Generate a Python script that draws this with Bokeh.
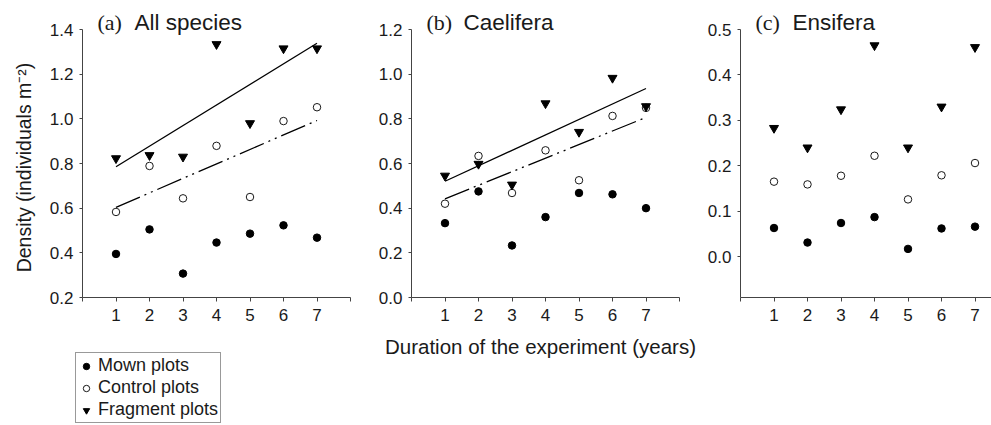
import math
import numpy as np
from bokeh.plotting import figure
from bokeh.layouts import row, column
from bokeh.models import (FixedTicker, Label, Legend, LegendItem, Range1d,
                          PrintfTickFormatter)
from bokeh.embed import file_html
from bokeh.resources import INLINE

# ---------------- data ----------------
years = [1, 2, 3, 4, 5, 6, 7]
x_ticks = [0, 1, 2, 3, 4, 5, 6, 7, 8]

all_mown = [0.395, 0.505, 0.307, 0.446, 0.486, 0.523, 0.468]
all_control = [0.583, 0.789, 0.644, 0.879, 0.650, 0.990, 1.052]
all_fragment = [0.823, 0.837, 0.830, 1.334, 0.980, 1.315, 1.315]

cae_mown = [0.333, 0.475, 0.233, 0.360, 0.468, 0.462, 0.400]
cae_control = [0.420, 0.634, 0.468, 0.659, 0.525, 0.813, 0.849]
cae_fragment = [0.545, 0.598, 0.505, 0.869, 0.741, 0.983, 0.856]

ens_mown = [0.063, 0.031, 0.074, 0.087, 0.017, 0.062, 0.066]
ens_control = [0.165, 0.159, 0.178, 0.222, 0.126, 0.179, 0.206]
ens_fragment = [0.283, 0.240, 0.324, 0.465, 0.240, 0.330, 0.461]

yticks_a = [0.2, 0.4, 0.6, 0.8, 1.0, 1.2, 1.4]
yticks_b = [0.0, 0.2, 0.4, 0.6, 0.8, 1.0, 1.2]
yticks_c = [0.0, 0.1, 0.2, 0.3, 0.4, 0.5]

legend_labels = ["Mown plots", "Control plots", "Fragment plots"]
x_label = "Duration of the experiment (years)"
y_label = "Density (individuals m\u207B\u00B2)"

SANS = "Liberation Sans"
SERIF = "Liberation Serif"
AX = "#444444"
TXT = "#1a1a1a"

TOP = 29      # space above the axis top, kept inside the frame for titles
AXIS_H = 268  # drawn height of the y axis
PANEL_H = 335
BOTTOM = PANEL_H - TOP - AXIS_H
STRIP_H = 425 - PANEL_H
YLAB_W = 40


def make_panel(width, border_left, border_right, x_end, y_lo, y_hi, yticks,
               mown, control, fragment, tag, name, trends):
    y_top = y_hi + TOP * (y_hi - y_lo) / AXIS_H
    p = figure(width=width, height=PANEL_H, output_backend="svg",
               toolbar_location=None, x_range=Range1d(0, x_end),
               y_range=Range1d(y_lo, y_top),
               min_border_left=border_left, min_border_right=border_right,
               min_border_top=0, min_border_bottom=BOTTOM)
    p.outline_line_color = None
    p.background_fill_color = "white"
    p.border_fill_color = "white"
    p.xgrid.visible = False
    p.ygrid.visible = False

    p.xaxis.ticker = FixedTicker(ticks=x_ticks)
    p.xaxis.major_label_overrides = {0: "", 8: ""}
    p.yaxis.ticker = FixedTicker(ticks=yticks)
    p.yaxis.formatter = PrintfTickFormatter(format="%.1f")
    p.yaxis.bounds = (y_lo, y_hi)
    for ax in (p.xaxis, p.yaxis):
        ax.axis_line_color = AX
        ax.axis_line_width = 1
        ax.major_tick_line_color = AX
        ax.minor_tick_line_color = None
        ax.major_tick_in = 0
        ax.major_label_text_font = SANS
        ax.major_label_text_font_size = "17px"
        ax.major_label_text_color = TXT
    p.xaxis.major_tick_out = 4
    p.xaxis.major_label_standoff = 7
    p.yaxis.major_tick_out = 3
    p.yaxis.major_label_standoff = 6

    if trends:
        xs = np.array([years[0], years[-1]], dtype=float)
        k, b = np.polyfit(years, fragment, 1)
        p.line(xs, k * xs + b, line_color="black", line_width=1.3)
        k, b = np.polyfit(years, control, 1)
        p.line(xs, k * xs + b, line_color="black", line_width=1.3,
               line_dash="26 5 2 5 2 5")

    p.scatter(years, mown, marker="circle", size=7.5,
              fill_color="black", line_color="black")
    p.scatter(years, control, marker="circle", size=7.5,
              fill_color="white", line_color="black", line_width=0.9)
    p.scatter(years, fragment, marker="inverted_triangle", size=9,
              fill_color="black", line_color="black")

    p.add_layout(Label(x=15, y=AXIS_H + 7, x_units="screen", y_units="screen",
                       text=tag, text_font=SERIF, text_font_size="22px",
                       text_color=TXT, text_baseline="alphabetic"))
    p.add_layout(Label(x=52, y=AXIS_H + 7, x_units="screen", y_units="screen",
                       text=name, text_font=SANS, text_font_size="22.5px",
                       text_color=TXT, text_baseline="alphabetic"))
    return p


# ---------------- left strip: y-axis title ----------------
ylab = figure(width=YLAB_W, height=PANEL_H, output_backend="svg",
              toolbar_location=None, x_axis_type=None, y_axis_type=None,
              x_range=Range1d(0, 1), y_range=Range1d(0, 1),
              min_border_left=0, min_border_right=0, min_border_top=0,
              min_border_bottom=BOTTOM)
ylab.outline_line_color = None
ylab.xgrid.visible = False
ylab.ygrid.visible = False
ylab.add_layout(Label(x=23, y=TOP + AXIS_H - 167, x_units="screen",
                      y_units="screen", text=y_label, angle=math.pi / 2,
                      text_font=SANS, text_font_size="19.5px", text_color=TXT,
                      text_align="center", text_baseline="middle"))

pa = make_panel(360 - YLAB_W, 82 - YLAB_W, 10, 8, 0.2, 1.4, yticks_a,
                all_mown, all_control, all_fragment,
                "(a)", "All species", True)
pb = make_panel(341, 51, 22, 8, 0.0, 1.2, yticks_b,
                cae_mown, cae_control, cae_fragment,
                "(b)", "Caelifera", True)
pc = make_panel(290, 39, 0, 251 / 268 * 8, -0.09, 0.5, yticks_c,
                ens_mown, ens_control, ens_fragment,
                "(c)", "Ensifera", False)

# ---------------- bottom strip: x-axis title and legend ----------------
strip = figure(width=991, height=STRIP_H, output_backend="svg",
               toolbar_location=None, x_axis_type=None, y_axis_type=None,
               x_range=Range1d(100, 101), y_range=Range1d(100, 101),
               min_border_left=0, min_border_right=0,
               min_border_top=0, min_border_bottom=0)
strip.outline_line_color = None
strip.xgrid.visible = False
strip.ygrid.visible = False

# legend proxies: same data as panel (a), lying outside this strip's ranges
g1 = strip.scatter(years, all_mown, marker="circle", size=7.5,
                   fill_color="black", line_color="black")
g2 = strip.scatter(years, all_control, marker="circle", size=7.5,
                   fill_color="white", line_color="black", line_width=0.9)
g3 = strip.scatter(years, all_fragment, marker="inverted_triangle", size=9,
                   fill_color="black", line_color="black")

strip.add_layout(Label(x=540, y=STRIP_H - 11, x_units="screen",
                       y_units="screen", text=x_label, text_font=SANS,
                       text_font_size="20.5px", text_color=TXT,
                       text_align="center", text_baseline="alphabetic"))

legend = Legend(items=[LegendItem(label=legend_labels[i], renderers=[g])
                       for i, g in enumerate((g1, g2, g3))],
                location=(75, 2), orientation="vertical",
                label_text_font=SANS, label_text_font_size="18px",
                label_text_color=TXT, label_height=20, glyph_height=20,
                glyph_width=16, label_standoff=4, spacing=1, padding=2,
                margin=0, border_line_color="#333333", border_line_width=1,
                background_fill_color="white", background_fill_alpha=1)
strip.add_layout(legend)

layout = column(row(ylab, pa, pb, pc), strip)
open("out.html", "w").write(file_html(layout, INLINE))
